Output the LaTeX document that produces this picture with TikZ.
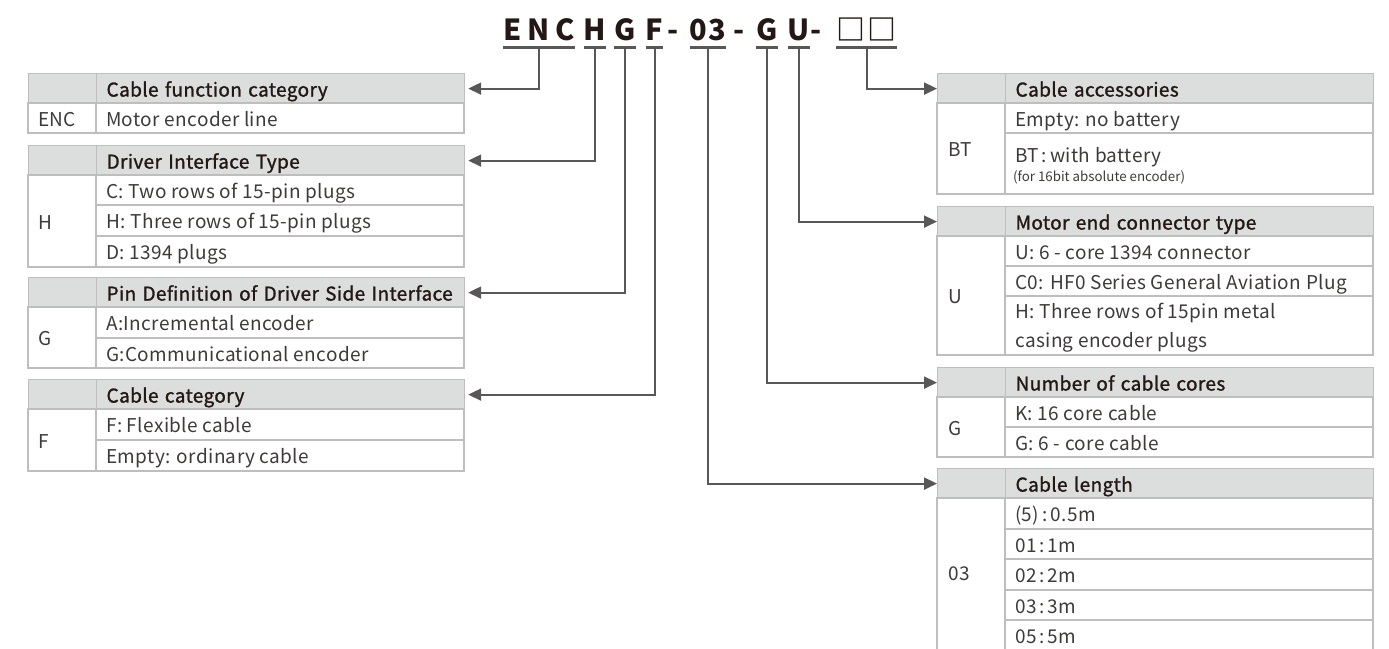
\documentclass[tikz,border=0pt]{standalone}
\usepackage{fontspec}
\setmainfont{Noto Sans CJK JP}[LetterSpace=2]
\newfontfamily\headfont{Noto Sans CJK JP}[LetterSpace=2, FakeBold=1.3]
\newfontfamily\titlefont{Noto Sans CJK JP}
\usetikzlibrary{arrows.meta}

\definecolor{headc}{HTML}{DCDDDD}
\definecolor{gridc}{HTML}{BEBEBE}
\definecolor{linkc}{HTML}{595757}
\definecolor{inkc}{HTML}{231815}
\definecolor{textc}{HTML}{3E3A39}

\newcommand\wcolon{\kern3pt:\kern3pt}

\tikzset{
  part/.style={anchor=base, inner sep=0pt, text=inkc, font=\titlefont\fontsize{29}{29}\selectfont\bfseries},
  bar/.style={linkc, line width=3pt},
  link/.style={linkc, line width=2pt, -{Triangle[length=13pt,width=12pt]}},
  codecell/.style={draw=gridc, fill=headc, line width=1.2pt, anchor=north west,
    minimum width=68pt, minimum height=30pt, inner sep=0pt},
  headcell/.style={draw=gridc, fill=headc, line width=1.2pt, anchor=north west,
    minimum height=30pt, text width=348pt, inner xsep=10pt, inner ysep=0pt, align=left,
    text height=16pt, text depth=0pt, text=inkc, font=\headfont\fontsize{19}{21}\selectfont},
  cell/.style={draw=gridc, line width=1.2pt},
  item/.style={anchor=west, inner sep=0pt, text height=16pt, text depth=0pt,
    text=textc, font=\fontsize{19}{21}\selectfont},
  note/.style={anchor=base west, inner sep=0pt, text=textc, font=\titlefont\fontsize{13.3}{14}\selectfont},
}

\begin{document}
\begin{tikzpicture}[x=1pt,y=-1pt]
\useasboundingbox (0,0) rectangle (1389,648);

% model code
\node[part] (p-enc) at (539,40) {E\kern6pt N\kern6pt C};
\node[part] (p-h) at (595,40) {H};
\node[part] (p-g) at (625,40) {G};
\node[part] (p-f) at (654.5,40) {F};
\node[part] (d1) at (673.5,40) {-};
\node[part] (p-len) at (708,40) {0\kern1pt 3};
\node[part] (d2) at (739.5,40) {-};
\node[part] (p-core) at (767,40) {G};
\node[part] (p-mot) at (799,40) {U};
\node[part] (d3) at (816.5,40) {-};
\node[part] (p-acc) at (866.5,40) {□\kern3pt□};

\coordinate (bar) at (0,47.5);
\foreach \p in {p-enc,p-h,p-g,p-f,p-len,p-core,p-mot,p-acc}
  \draw[bar] (\p.west |- bar) -- (\p.east |- bar);

% Cable function category
\node[codecell] (t-fun-c) at (28,73) {};
\node[headcell] (t-fun) at (96,73) {Cable function category};
\draw[cell] (28,103) rectangle (464,133) (96,103) -- (96,133);
\node[item] at (38,118) {ENC};
\node[item] at (106,118) {Motor encoder line};

% Driver Interface Type
\node[codecell] (t-drv-c) at (28,145) {};
\node[headcell] (t-drv) at (96,145) {Driver Interface Type};
\draw[cell] (28,175) rectangle (464,267) (96,175) -- (96,267);
\foreach \y in {205,236}
  \draw[cell] (96,\y) -- (464,\y);
\node[item] at (38,221) {H};
\node[item] at (106,190) {C: Two rows of 15-pin plugs};
\node[item] at (106,220.5) {H: Three rows of 15-pin plugs};
\node[item] at (106,251.5) {D: 1394 plugs};

% Pin Definition of Driver Side Interface
\node[codecell] (t-pin-c) at (28,277) {};
\node[headcell] (t-pin) at (96,277) {\mbox{Pin Definition of Driver Side Interface}};
\draw[cell] (28,307) rectangle (464,368) (96,307) -- (96,368);
\draw[cell] (96,338) -- (464,338);
\node[item] at (38,337.5) {G};
\node[item] at (106,322.5) {A:Incremental encoder};
\node[item] at (106,353) {G:Communicational encoder};

% Cable category
\node[codecell] (t-cat-c) at (28,379) {};
\node[headcell] (t-cat) at (96,379) {Cable category};
\draw[cell] (28,409) rectangle (464,471) (96,409) -- (96,471);
\draw[cell] (96,440) -- (464,440);
\node[item] at (38,440) {F};
\node[item] at (106,424.5) {F: Flexible cable};
\node[item] at (106,455.5) {Empty: ordinary cable};

% Cable accessories
\node[codecell] (t-acc-c) at (937,73) {};
\node[headcell] (t-acc) at (1005,73) {Cable accessories};
\draw[cell] (937,103) rectangle (1373,194) (1005,103) -- (1005,194);
\draw[cell] (1005,133) -- (1373,133);
\node[item] at (948,148.5) {BT};
\node[item] at (1015,118) {Empty: no battery};
\node[item] at (1015,154) {BT\wcolon with battery};
\node[note] at (1013,181) {(for 16bit absolute encoder)};

% Motor end connector type
\node[codecell] (t-mot-c) at (937,206) {};
\node[headcell] (t-mot) at (1005,206) {Motor end connector type};
\draw[cell] (937,236) rectangle (1373,355) (1005,236) -- (1005,355);
\foreach \y in {266,296}
  \draw[cell] (1005,\y) -- (1373,\y);
\node[item] at (948,295.5) {U};
\node[item] at (1015,251) {U: 6 - core 1394 connector};
\node[item] at (1015,281) {C0: HF0 Series General Aviation Plug};
\node[item] at (1015,310) {H: Three rows of 15pin metal};
\node[item] at (1015,339) {casing encoder plugs};

% Number of cable cores
\node[codecell] (t-core-c) at (937,367) {};
\node[headcell] (t-core) at (1005,367) {Number of cable cores};
\draw[cell] (937,397) rectangle (1373,457) (1005,397) -- (1005,457);
\draw[cell] (1005,427) -- (1373,427);
\node[item] at (948,427) {G};
\node[item] at (1015,412) {K: 16 core cable};
\node[item] at (1015,442) {G: 6 - core cable};

% Cable length
\node[codecell] (t-len-c) at (937,468) {};
\node[headcell] (t-len) at (1005,468) {Cable length};
\draw[cell] (937,498) rectangle (1373,651) (1005,498) -- (1005,651);
\foreach \y in {529,559,590,620}
  \draw[cell] (1005,\y) -- (1373,\y);
\node[item] at (948,572) {03};
\node[item] at (1015,513.5) {(5)\wcolon 0.5m};
\node[item] at (1015,544) {01\wcolon 1m};
\node[item] at (1015,574.5) {02\wcolon 2m};
\node[item] at (1015,605) {03\wcolon 3m};
\node[item] at (1015,635) {05\wcolon 5m};

% connectors
\draw[link, shorten >=3pt] (p-enc |- bar) |- (t-fun.east);
\draw[link, shorten >=3pt] (p-h |- bar) |- (t-drv.east);
\draw[link, shorten >=3pt] (p-g |- bar) |- (t-pin.east);
\draw[link, shorten >=3pt] (p-f |- bar) |- (t-cat.east);
\draw[link] (p-acc |- bar) |- (t-acc-c.west);
\draw[link] (p-mot |- bar) |- (t-mot-c.west);
\draw[link] (p-core |- bar) |- (t-core-c.west);
\draw[link] (p-len |- bar) |- (t-len-c.west);

\end{tikzpicture}
\end{document}
